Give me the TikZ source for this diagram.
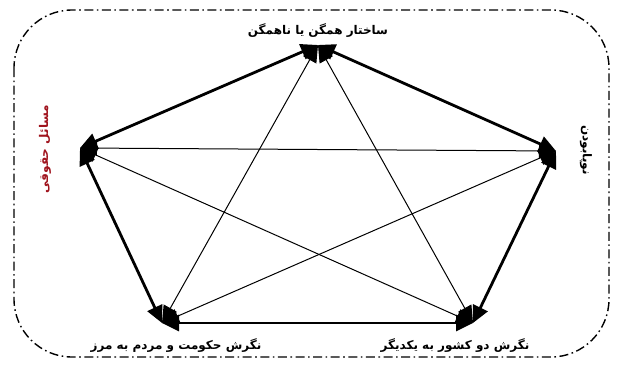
\documentclass[tikz,border=0pt]{standalone}
\usepackage{fontspec}
\usetikzlibrary{arrows.meta}
\TeXXeTstate=1
\newfontfamily\arabicfont[Script=Arabic]{DejaVu Sans}
\definecolor{darkred}{RGB}{160,20,30}
\begin{document}
\begin{tikzpicture}[x=1pt,y=-1pt,
  thickedge/.style={line width=2.8pt,{Triangle[length=17pt,width=16pt]}-{Triangle[length=17pt,width=16pt]}},
  thinedge/.style={line width=1pt,{Triangle[length=17pt,width=15pt]}-{Triangle[length=17pt,width=15pt]}},
  lab/.style={font=\arabicfont\bfseries\fontsize{12}{13}\selectfont,inner sep=1pt},
  frame/.style={line width=1.4pt,rounded corners=58pt,dash pattern=on 9pt off 3.5pt on 1.6pt off 3.5pt}]
\useasboundingbox (0,0) rectangle (618,367);
\draw[frame] (14,10) rectangle (609,357);
\coordinate (T) at (318,45);
\coordinate (L) at (80,148);
\coordinate (R) at (556,151);
\coordinate (BL) at (162,323);
\coordinate (BR) at (473,323);
% pentagon edges
\draw[thickedge] (T) -- (L);
\draw[thickedge] (T) -- (R);
\draw[thickedge] (L) -- (BL);
\draw[thickedge] (R) -- (BR);
\draw[thickedge] (BL) -- (BR);
% diagonals
\draw[thinedge] (T) -- (BL);
\draw[thinedge] (T) -- (BR);
\draw[thinedge] (L) -- (R);
\draw[thinedge] (L) -- (BR);
\draw[thinedge] (R) -- (BL);
% labels
\node[lab] (tl) at (318,31) {\beginR ساختار همگن یا ناهمگن\endR};
\node[lab,text=darkred,rotate=90] (ll) at (45,149) {\beginR مسائل حقوقی\endR};
\node[lab,rotate=-90] (rl) at (586,150) {\beginR نوپابودن\endR};
\node[lab] (bll) at (176,346) {\beginR نگرش حکومت و مردم به مرز\endR};
\node[lab] (brl) at (455,346) {\beginR نگرش دو کشور به یکدیگر\endR};
\end{tikzpicture}
\end{document}
